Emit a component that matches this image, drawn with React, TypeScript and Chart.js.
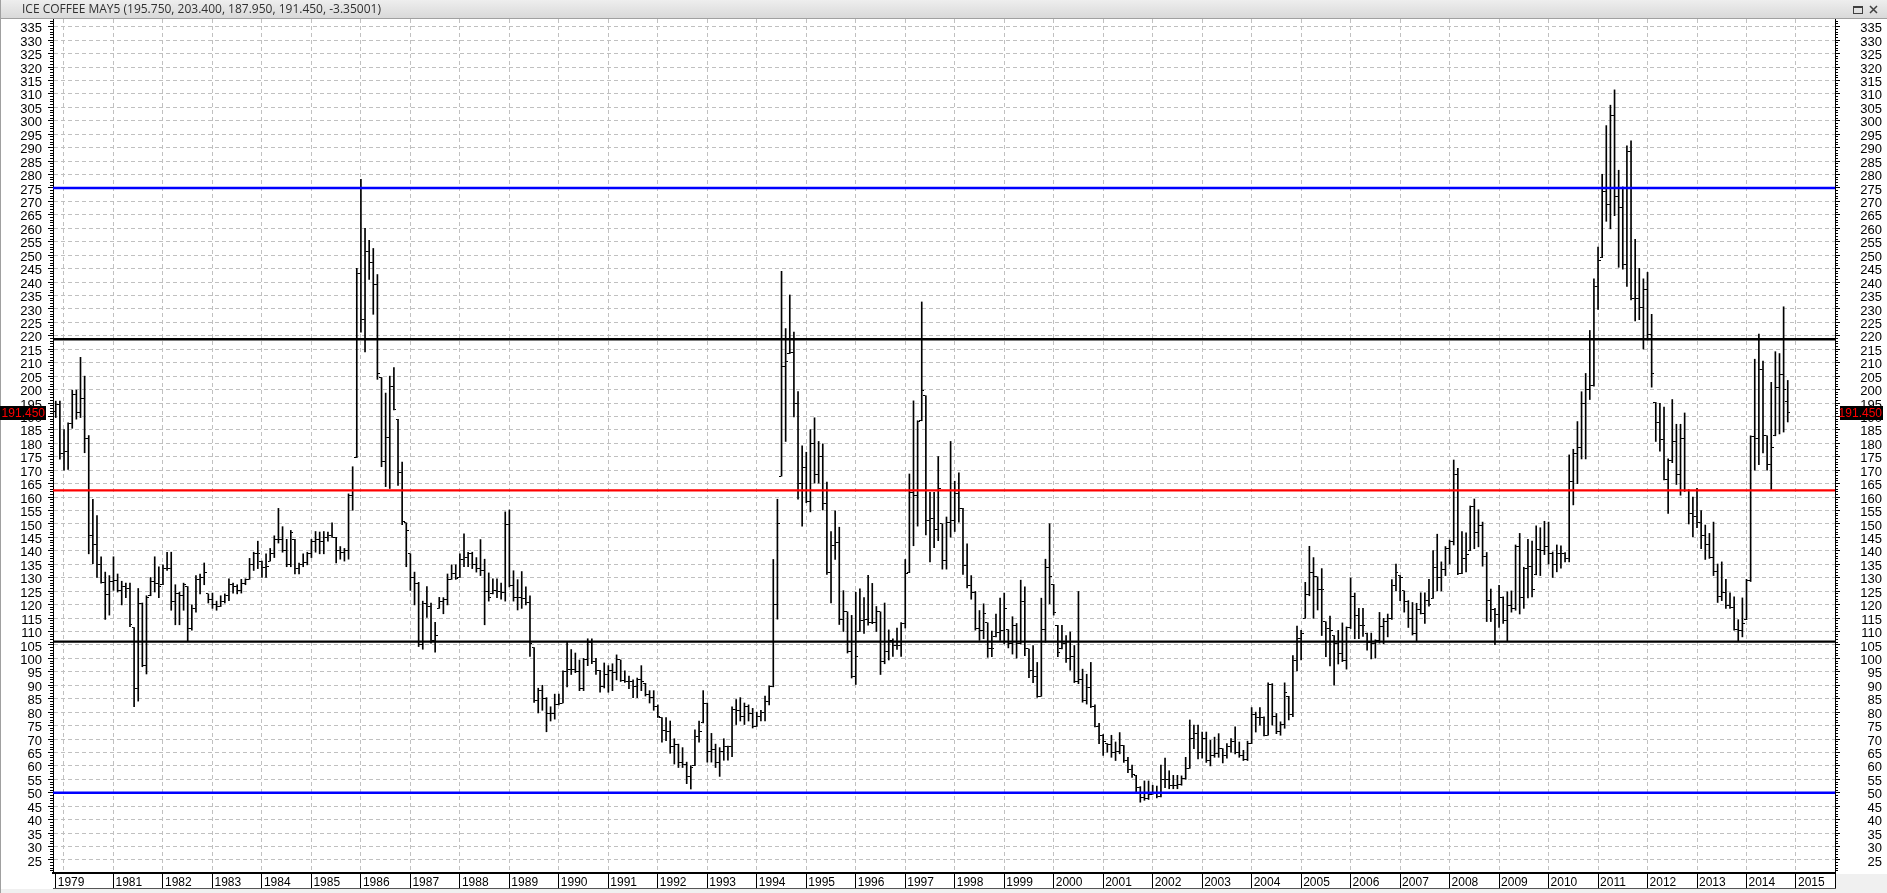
import React, { useEffect, useRef } from "react";
import { Chart, registerables } from "chart.js";

Chart.register(...registerables);

// ---------------- data ----------------
const TITLE = "ICE COFFEE MAY5";
const lastBar = { open: 195.75, high: 203.4, low: 187.95, close: 191.45, change: -3.35001 };

// monthly bars, the first one is Nov 1979 (month index counted from Jan 1979)
const BASE_YEAR = 1979;
const FIRST_BAR_MONTH = 10;

const levelValues = [275, 218.75, 162.5, 106.25, 50];
const levelColors = ["#0000ff", "#000000", "#ff0000", "#000000", "#0000ff"];

const firstYearLabel = "1979";
const yearBoundaries = [
  1980, 1981, 1982, 1983, 1984, 1985, 1986, 1987, 1988, 1989, 1990, 1991,
  1992, 1993, 1994, 1995, 1996, 1997, 1998, 1999, 2000, 2001, 2002, 2003,
  2004, 2005, 2006, 2007, 2008, 2009, 2010, 2011, 2012, 2013, 2014, 2015,
];
const hiddenYearLabels = [1980];

const priceTicks = [
  25, 30, 35, 40, 45, 50, 55, 60, 65, 70, 75, 80, 85, 90, 95, 100, 105, 110,
  115, 120, 125, 130, 135, 140, 145, 150, 155, 160, 165, 170, 175, 180, 185,
  190, 195, 200, 205, 210, 215, 220, 225, 230, 235, 240, 245, 250, 255, 260,
  265, 270, 275, 280, 285, 290, 295, 300, 305, 310, 315, 320, 325, 330, 335,
];

const opens = [
  192, 194.4,
  176.1, 177, 187.3, 198, 191.6, 196.7, 181.9, 145.9, 142.3, 134.8, 128.3, 123.7,
  128.7, 129.1, 125.1, 126.7, 126, 111.5, 88.8, 120.6, 97.2, 123.3, 128.7, 128,
  127.4, 133.5, 133.5, 121.3, 124, 123.3, 126.7, 111.1, 118.6, 129.4, 130.1, 124,
  121.9, 119.9, 119.3, 121.3, 123.3, 127.4, 126.7, 125.3, 128, 129.4, 134.8, 138.9,
  136.2, 133.7, 136.2, 138.9, 144.3, 144.3, 140.2, 134.8, 144.3, 133.5, 134.8, 135.5,
  138.9, 143.6, 144.3, 143.6, 145, 145.6, 145, 140.2, 139.5, 140.2, 160.5, 174.7,
  243, 226, 251.2, 247.1, 239, 204.5, 173.4, 182.2, 201.1, 188.9, 169.3, 150.4,
  138.9, 130.1, 128, 105, 120.6, 119.3, 106.7, 118.6, 121.3, 122, 129.4, 131.4,
  130.1, 136.9, 137.5, 138.9, 134.8, 133.5, 132.8, 124.7, 124, 125.3, 124.7, 124.6,
  149.9, 127, 122.6, 122.6, 122.2, 120.9, 104, 84.5, 88, 85, 79.4, 79.4,
  82.7, 83.4, 95, 96, 96, 95, 88.7, 99.5, 106, 98.7, 95.4, 89.4,
  94, 95.4, 94.7, 99.4, 91.6, 91.4, 91.4, 89.4, 92, 90.7, 86.7, 85.4,
  82, 78, 73, 72.7, 67.4, 68.1, 61.1, 60.7, 56.1, 60.1, 71, 76,
  83.4, 65.4, 66.1, 61.4, 65.4, 67.4, 67.1, 81, 80.7, 78.3, 82, 79.4,
  74.7, 78.3, 80, 84, 89.4, 120, 167.8, 208.6, 213.4, 213.7, 195, 165,
  171.1, 158.5, 179.8, 168.5, 175.1, 157.8, 132, 141.9, 143.2, 114.6, 117.3, 102.6,
  93.4, 110, 114.2, 114.6, 113.3, 113.3, 117.3, 98.7, 102.7, 106.7, 104.7, 104.7,
  113, 131.9, 161.8, 160.5, 188.4, 197.7, 151.2, 152.2, 147.9, 150.1, 136.6, 150.6,
  151.4, 161.4, 155.8, 134.4, 127.1, 124.5, 111.1, 110.4, 113.2, 103.5, 108, 109.5,
  110.2, 110.7, 105.4, 112.3, 105.7, 121.1, 103.5, 95.6, 93.4, 85.9, 110.7, 133.7,
  127.5, 112.3, 103.5, 105.4, 99.8, 100.6, 91.3, 92, 84.2, 89.3, 82.1, 74.6,
  71.4, 68.3, 67.9, 65.1, 65.4, 67.6, 61.9, 58.5, 56.5, 51.9, 48.1, 48,
  49.4, 50, 48.5, 54.8, 55.1, 52.6, 52.8, 53.2, 55.3, 59.1, 70.2, 72,
  64.9, 70.2, 61.9, 63.9, 64.5, 66.4, 63.9, 67.3, 68.9, 65.1, 63.9, 62.4,
  68.3, 79, 78, 78, 71.4, 90.3, 78.3, 72.9, 75.4, 85.9, 79, 99.1,
  107.3, 114.9, 123.7, 131.9, 130.3, 125.6, 113.6, 111.1, 108.5, 105.7, 101.9, 99.1,
  111.5, 123, 116.1, 112.3, 109.4, 106, 105.4, 106.7, 111.7, 113.6, 114.9, 127.1,
  130.8, 125.1, 121.1, 114.8, 109.1, 118.2, 116.8, 121.5, 122.3, 133.9, 130.1, 132.9,
  141, 143.3, 168.5, 131.5, 137.2, 140.1, 156.4, 146.7, 149.3, 137.9, 121.5, 118,
  116.5, 122.5, 114, 119.7, 118.7, 141.5, 122.5, 133.6, 134.3, 131.1, 140.5, 140.1,
  141.5, 139, 135.1, 139, 139, 137.2, 165.7, 176.4, 178.5, 195, 200, 201.7,
  238.4, 249.1, 273.6, 269, 302, 272, 267.6, 246.5, 288.7, 233.7, 233.7, 230.5,
  237.4, 220.6, 195.2, 187.8, 181.4, 166.7, 173.5, 180.7, 168.5, 181.8, 162.4, 153.9,
  152.9, 150.4, 145.7, 142.2, 137.6, 132.2, 122.9, 124.4, 119.7, 119.1, 110.8, 110.5,
  114.4, 129.1, 182.4, 181.8, 207.4, 182.8, 172, 182.8, 200.9, 205.6, 195.75,
];

const highs = [
  195.7, 195.7,
  185.1, 187.6, 199.8, 199.8, 212.0, 205.0, 182.9, 159.2, 153.1, 137.8, 132.1, 130.8,
  137.8, 131.4, 128.7, 128.0, 128.0, 111.5, 126.0, 120.6, 123.3, 130.1, 137.8, 134.1,
  134.8, 139.5, 139.5, 127.4, 124.7, 128.0, 126.7, 119.9, 130.8, 131.4, 135.5, 124.0,
  124.3, 121.3, 123.3, 124.0, 129.6, 128.0, 127.4, 129.4, 129.6, 137.2, 139.5, 143.6,
  136.2, 138.9, 140.9, 145.6, 155.8, 149.0, 144.3, 147.6, 144.3, 135.5, 138.9, 139.5,
  144.3, 147.2, 147.0, 147.2, 147.0, 150.4, 145.0, 141.6, 140.9, 161.2, 171.3, 245.1,
  278.2, 260.0, 255.5, 252.5, 242.8, 204.5, 198.7, 205.0, 208.2, 188.9, 173.0, 150.4,
  138.9, 132.1, 128.3, 121.3, 126.7, 120.6, 113.4, 122.7, 122.6, 131.4, 134.8, 134.8,
  138.9, 146.3, 139.5, 139.5, 137.5, 144.2, 136.9, 131.8, 129.6, 129.6, 128.0, 154.5,
  155.2, 132.6, 129.3, 132.3, 126.6, 123.3, 104.0, 88.9, 90.0, 85.4, 82.0, 86.7,
  86.7, 95.4, 106.0, 103.3, 102.0, 99.4, 100.0, 107.3, 107.3, 100.0, 95.6, 98.3,
  97.3, 98.0, 101.3, 99.4, 95.4, 93.4, 92.0, 92.7, 97.3, 90.7, 88.0, 88.0,
  82.7, 78.0, 78.0, 76.7, 70.1, 68.1, 66.8, 61.4, 60.1, 73.4, 76.7, 88.0,
  83.4, 72.1, 68.1, 66.8, 70.1, 67.4, 82.0, 84.7, 85.4, 83.4, 82.7, 81.4,
  80.0, 80.7, 86.0, 89.8, 136.8, 159.2, 244.0, 222.7, 235.2, 221.4, 199.3, 179.1,
  176.7, 185.1, 189.5, 180.7, 179.8, 165.6, 147.2, 154.9, 148.8, 125.2, 117.3, 116.0,
  124.6, 125.9, 122.6, 130.9, 127.9, 119.3, 117.3, 120.6, 110.6, 107.3, 111.3, 113.3,
  136.8, 168.6, 195.8, 188.4, 232.6, 197.7, 161.8, 161.8, 175.1, 150.1, 152.6, 180.7,
  165.9, 169.0, 155.8, 142.6, 130.8, 124.9, 117.8, 120.3, 113.2, 110.2, 116.5, 122.4,
  124.3, 110.7, 115.5, 113.0, 129.1, 126.6, 103.5, 104.8, 98.5, 122.4, 136.9, 150.1,
  127.5, 112.3, 112.3, 108.5, 109.8, 104.8, 124.9, 96.0, 94.1, 98.5, 82.7, 75.8,
  71.7, 68.3, 71.4, 68.9, 72.4, 67.6, 63.2, 60.3, 56.5, 52.3, 54.4, 54.4,
  52.8, 52.5, 60.3, 62.9, 58.2, 56.5, 56.5, 56.3, 63.2, 77.1, 75.2, 75.2,
  72.6, 72.6, 69.5, 70.7, 72.0, 66.4, 68.3, 70.2, 74.5, 68.9, 65.8, 69.2,
  81.7, 80.0, 81.7, 78.3, 90.9, 90.6, 79.5, 76.4, 90.9, 85.9, 101.0, 112.0,
  110.4, 128.3, 141.7, 137.5, 130.3, 133.4, 113.6, 115.7, 108.5, 110.4, 113.2, 111.7,
  129.9, 124.3, 118.6, 118.6, 109.4, 109.4, 106.9, 117.1, 114.9, 116.5, 129.3, 135.1,
  130.8, 125.1, 121.5, 120.8, 120.5, 124.4, 124.4, 129.4, 140.1, 146.2, 135.9, 141.6,
  144.0, 173.8, 170.7, 147.2, 146.7, 156.7, 159.3, 155.3, 150.7, 139.4, 125.8, 118.6,
  127.2, 122.9, 124.8, 125.1, 142.2, 146.5, 133.9, 144.3, 143.6, 149.3, 148.6, 151.0,
  150.7, 139.6, 142.2, 141.9, 139.4, 175.7, 177.8, 188.1, 199.2, 206.0, 222.0, 241.2,
  253.0, 280.1, 298.2, 305.8, 311.5, 281.6, 275.4, 290.7, 292.5, 255.9, 245.1, 241.2,
  243.6, 228.0, 195.2, 194.9, 193.5, 174.2, 196.3, 187.1, 187.1, 191.3, 162.8, 160.0,
  163.3, 155.0, 149.6, 146.5, 150.7, 135.1, 135.9, 129.4, 124.4, 122.9, 114.4, 122.5,
  129.4, 182.8, 211.3, 220.6, 210.6, 182.8, 202.7, 214.1, 213.4, 230.8, 203.4,
];

const lows = [
  189.6, 174.1,
  170.0, 170.3, 185.6, 189.0, 189.6, 176.5, 138.9, 135.2, 130.1, 128.0, 114.5, 116.1,
  125.3, 124.7, 119.9, 122.6, 111.8, 82.0, 84.1, 96.9, 94.2, 123.3, 124.7, 122.6,
  127.4, 132.7, 117.9, 112.5, 112.5, 117.9, 106.3, 110.5, 117.2, 124.0, 127.4, 120.6,
  118.6, 117.9, 119.3, 120.6, 121.5, 124.3, 124.0, 124.3, 127.4, 129.4, 132.7, 133.4,
  130.1, 130.1, 136.2, 137.5, 142.9, 139.5, 134.1, 134.1, 131.4, 131.4, 134.1, 134.8,
  137.5, 139.5, 138.9, 138.9, 143.6, 145.0, 135.5, 136.9, 136.2, 136.9, 155.1, 174.7,
  221.4, 214.0, 241.0, 228.0, 203.8, 171.3, 163.9, 163.2, 192.4, 164.3, 149.7, 134.1,
  125.3, 119.9, 104.4, 103.4, 115.2, 105.7, 102.3, 118.6, 116.6, 119.9, 129.4, 129.4,
  130.1, 134.1, 134.1, 133.4, 132.1, 130.8, 112.5, 121.3, 124.0, 122.6, 122.0, 121.3,
  126.6, 121.3, 118.0, 118.6, 119.9, 100.7, 83.6, 79.7, 80.7, 72.7, 76.7, 77.4,
  82.7, 83.4, 89.4, 94.0, 94.7, 88.0, 88.0, 97.3, 98.0, 94.0, 87.4, 89.0,
  87.4, 88.0, 92.0, 91.4, 91.1, 88.7, 85.4, 85.4, 88.0, 86.0, 83.4, 80.7,
  78.0, 68.8, 69.4, 64.7, 60.7, 59.4, 59.4, 53.4, 51.4, 60.1, 68.8, 76.0,
  61.4, 61.4, 59.4, 56.1, 62.1, 62.1, 63.4, 75.4, 76.7, 75.4, 76.7, 74.1,
  74.7, 76.7, 76.7, 82.7, 89.4, 114.6, 167.8, 180.7, 213.4, 189.8, 159.2, 149.2,
  157.9, 154.5, 165.2, 165.2, 155.2, 131.2, 120.6, 136.8, 112.6, 110.0, 102.0, 92.7,
  90.3, 110.0, 109.3, 112.4, 112.9, 110.0, 94.0, 98.0, 99.4, 100.7, 103.3, 100.7,
  111.3, 131.9, 141.9, 149.2, 188.4, 145.9, 135.9, 141.2, 143.8, 133.2, 133.2, 145.1,
  147.2, 150.7, 131.2, 126.2, 122.0, 110.5, 106.7, 107.3, 100.4, 100.6, 108.0, 106.7,
  105.4, 103.9, 101.6, 100.1, 105.4, 101.0, 92.8, 91.0, 85.5, 85.9, 106.0, 120.3,
  116.1, 100.6, 103.5, 98.5, 95.6, 91.0, 90.6, 83.7, 83.0, 81.7, 74.5, 68.3,
  63.9, 65.1, 63.2, 62.0, 64.5, 61.3, 57.5, 55.7, 50.0, 46.5, 47.2, 47.5,
  49.4, 48.1, 48.5, 51.9, 51.5, 51.5, 51.5, 52.8, 55.0, 59.1, 66.4, 62.6,
  62.9, 61.3, 60.0, 63.2, 63.2, 61.1, 62.9, 65.1, 64.5, 63.2, 62.0, 62.0,
  68.3, 72.6, 75.2, 71.2, 71.4, 75.2, 72.0, 71.4, 74.0, 77.1, 78.3, 95.3,
  99.4, 114.9, 123.3, 114.9, 118.0, 108.5, 100.6, 97.2, 90.0, 97.9, 98.8, 96.0,
  111.1, 107.3, 107.3, 108.2, 103.1, 99.8, 100.1, 105.7, 105.4, 108.0, 114.5, 125.1,
  121.5, 117.2, 111.5, 108.7, 106.6, 116.5, 113.0, 119.4, 122.3, 125.1, 125.1, 130.8,
  135.1, 142.2, 131.1, 131.5, 132.2, 140.1, 140.8, 141.5, 134.3, 113.7, 113.7, 105.1,
  111.5, 113.0, 106.6, 117.2, 117.9, 116.5, 118.6, 122.5, 122.9, 131.1, 130.8, 138.6,
  135.1, 130.1, 132.2, 133.6, 135.9, 135.9, 157.1, 165.0, 174.2, 174.2, 196.3, 201.3,
  229.8, 249.1, 262.6, 259.8, 264.7, 245.5, 244.8, 238.4, 233.4, 225.5, 226.0, 215.1,
  218.4, 200.9, 180.7, 177.1, 166.4, 153.9, 172.8, 164.7, 160.7, 162.1, 150.0, 145.3,
  148.6, 140.8, 136.8, 137.2, 130.8, 120.8, 121.5, 118.6, 118.6, 110.5, 106.3, 108.0,
  114.4, 128.6, 170.0, 172.1, 176.4, 170.0, 162.8, 182.8, 183.5, 184.2, 187.95,
];

const closes = [
  194.4, 176.1,
  177, 187.3, 198, 191.6, 196.7, 181.9, 145.9, 142.3, 134.8, 128.3, 123.7, 128.7,
  129.1, 125.1, 126.7, 126.0, 112.5, 88.8, 120.6, 97.2, 122.5, 128.7, 128.0, 126.7,
  133.5, 133.5, 121.3, 124.0, 123.3, 127.4, 111.1, 118.6, 129.4, 130.1, 132.1, 121.9,
  119.9, 119.3, 121.3, 123.3, 127.4, 126.7, 125.3, 128.0, 129.4, 134.8, 138.9, 138.9,
  133.7, 134.1, 138.9, 144.3, 144.3, 140.2, 134.8, 146.9, 133.5, 134.8, 135.5, 138.9,
  143.6, 144.3, 143.6, 145.0, 145.6, 145.0, 140.2, 139.5, 140.2, 160.5, 162.6, 243,
  226, 251.2, 247.1, 239.0, 206, 173.4, 182.2, 201.1, 192.7, 169.3, 151.0, 147.7,
  130.1, 128.0, 105.0, 120.6, 119.3, 106.7, 108.4, 121.3, 122.0, 129.4, 131.4, 129.8,
  136.9, 137.5, 138.9, 134.8, 133.5, 132.8, 124.7, 122.6, 125.3, 124.7, 124.6, 149.9,
  127, 122.6, 122.6, 122.2, 120.9, 105.7, 84.5, 88.0, 85.0, 79.4, 79.4, 82.7,
  83.4, 95, 96.0, 96.0, 95, 88.7, 99.5, 106.0, 98.7, 95.4, 89.4, 94.0,
  95.4, 94.7, 99.4, 91.6, 91.4, 91.4, 89.4, 92.0, 91.4, 86.7, 85.4, 82.0,
  78.5, 73.0, 72.7, 67.4, 68.1, 61.1, 60.7, 56.1, 59.5, 71, 72.7, 83.4,
  65.4, 66.1, 61.4, 65.4, 67.4, 67.1, 81, 80.7, 78.3, 82.0, 79.4, 74.7,
  78.3, 80.0, 84.0, 89.4, 120.0, 150, 208.6, 210.4, 213.7, 195, 165, 171.1,
  158.5, 179.8, 168.5, 175.1, 157.8, 132, 141.9, 143.2, 114.6, 117.3, 102.6, 93.4,
  100.7, 114.2, 114.6, 113.3, 113.3, 117.3, 98.7, 102.7, 106.7, 104.7, 104.7, 113,
  131.5, 161.8, 160.5, 188.2, 199.7, 151.2, 152.2, 147.9, 163.2, 136.6, 150.6, 151.4,
  161.4, 155.8, 134.4, 127.1, 124.5, 111.1, 110.4, 116.7, 103.5, 103.5, 109.5, 110.2,
  118.6, 105.4, 112.3, 105.7, 121.1, 103.5, 95.6, 93.4, 85.9, 110.7, 133.7, 130.6,
  117, 102.3, 105.4, 99.8, 100.6, 91.3, 92, 84.2, 89.3, 82.1, 74.6, 71.4,
  68.9, 67.9, 65.1, 65.4, 67.6, 61.9, 58.5, 56.9, 51.9, 48.1, 48, 49.4,
  50.0, 48.5, 54.8, 55.1, 52.6, 52.8, 53.2, 55.3, 59.1, 70.2, 72.0, 64.9,
  70.2, 61.9, 63.9, 64.5, 66.6, 63.9, 67.3, 68.9, 65.1, 63.9, 62.4, 68.3,
  79.0, 78.0, 78.0, 71.4, 90.3, 78.3, 72.9, 75.4, 87.2, 79.0, 99.1, 107.3,
  109.4, 123.7, 131.9, 130.6, 125.6, 125.6, 111.1, 110.4, 105.7, 101.9, 99.1, 111.5,
  123.0, 116.1, 112.3, 112.3, 106.0, 105.4, 106.7, 111.7, 113.6, 114.9, 127.1, 131.9,
  130.1, 121.1, 114.8, 109.1, 118.2, 116.8, 121.5, 120.1, 133.9, 130.1, 132.9, 141.0,
  143.3, 168.5, 131.5, 137.2, 138.6, 156.4, 146.7, 149.3, 137.9, 121.5, 118.0, 116.5,
  122.5, 114.0, 119.7, 118.7, 141.5, 122.5, 133.6, 134.3, 125.8, 140.5, 140.1, 141.5,
  139.0, 135.1, 139.0, 139.0, 137.2, 165.7, 176.4, 178.5, 195, 200, 201.7, 238.4,
  247.9, 273.6, 269.0, 302, 272, 267.6, 246.5, 288.7, 233.7, 233.7, 230.5, 237.4,
  220.6, 206.0, 187.8, 181.4, 166.7, 173.5, 180.7, 168.5, 181.8, 162.4, 153.9, 152.9,
  150.4, 145.7, 142.2, 137.6, 132.2, 122.9, 124.4, 119.7, 119.1, 110.8, 110.5, 113.0,
  129.1, 182.4, 181.8, 207.4, 182.8, 172, 178.5, 200.9, 205.6, 199.9, 191.45,
];

// ---------------- component ----------------
const W = 1887;
const H = 893;
const FONT = '"Liberation Sans", Arial, sans-serif';

export default function App() {
  const canvasRef = useRef<HTMLCanvasElement | null>(null);

  useEffect(() => {
    const canvas = canvasRef.current;
    if (!canvas) return;

    const X_MIN = 9.333;
    const X_MAX = 441.46;
    const Y_MIN = 20.16;
    const Y_MAX = 337.86;
    const PLOT_L = 53;
    const PLOT_R = 1835;
    const STRIP_BOTTOM = 888;

    Chart.defaults.font.family = FONT;

    const xs = closes.map((_, i) => FIRST_BAR_MONTH + i);
    const rangeData = xs.map((x, i) => ({ x, y: [lows[i], highs[i]] }));
    const openData = xs.map((x, i) => ({ x, y: opens[i] }));
    const closeData = xs.map((x, i) => ({ x, y: closes[i] }));

    const tickImg = (side: "left" | "right") => {
      const c = document.createElement("canvas");
      c.width = 5;
      c.height = 1;
      const g = c.getContext("2d")!;
      g.fillStyle = "#000";
      g.fillRect(side === "left" ? 0 : 3, 0, 2, 1);
      return c;
    };

    const xTicks = [{ value: FIRST_BAR_MONTH, label: firstYearLabel }].concat(
      yearBoundaries.map((y) => ({
        value: (y - BASE_YEAR) * 12,
        label: hiddenYearLabels.includes(y) ? "" : String(y),
      }))
    );

    const minorTicks = (s: any) => {
      const t: any[] = [];
      for (let v = Math.ceil(Y_MIN); v <= Y_MAX; v++) t.push({ value: v });
      s.ticks = t;
    };
    const majorTicks = (s: any) => {
      s.ticks = priceTicks.map((v) => ({ value: v }));
    };

    const titleText = `${TITLE} (${lastBar.open.toFixed(3)}, ${lastBar.high.toFixed(3)}, ${lastBar.low.toFixed(3)}, ${lastBar.close.toFixed(3)}, ${lastBar.change})`;

    const decor = {
      id: "decor",
      beforeDraw(chart: any) {
        const ctx = chart.ctx as CanvasRenderingContext2D;
        ctx.save();
        ctx.fillStyle = "#ffffff";
        ctx.fillRect(0, 0, W, H);
        const g = ctx.createLinearGradient(0, 0, 0, 18);
        g.addColorStop(0, "#eeeeee");
        g.addColorStop(1, "#d9d9d9");
        ctx.fillStyle = g;
        ctx.fillRect(0, 0, W, 18);
        ctx.fillStyle = "#a0a0a0";
        ctx.fillRect(0, 18, W, 1);
        ctx.fillStyle = "#f0f0f0";
        ctx.fillRect(0, STRIP_BOTTOM + 1, W, H - STRIP_BOTTOM - 1);
        ctx.fillRect(PLOT_R + 1, 874, W - PLOT_R - 1, H - 874);
        ctx.fillStyle = "#a0a0a0";
        ctx.fillRect(0, 0, 1, H);
        ctx.fillStyle = "#303030";
        ctx.font = '12px "Open Sans", "Noto Sans", sans-serif';
        ctx.textBaseline = "middle";
        ctx.textAlign = "left";
        ctx.fillText(titleText, 22, 10);
        ctx.restore();
      },
      afterDraw(chart: any) {
        const ctx = chart.ctx as CanvasRenderingContext2D;
        ctx.save();
        ctx.fillStyle = "#555555";
        ctx.fillRect(PLOT_L, STRIP_BOTTOM, PLOT_R - PLOT_L + 1, 1);
        ctx.fillStyle = "#000";
        ctx.fillRect(PLOT_R, 873, 1, STRIP_BOTTOM - 873);
        // last price markers
        const yp = chart.scales.y.getPixelForValue(lastBar.close);
        const txt = lastBar.close.toFixed(3);
        ctx.font = `12px ${FONT}`;
        ctx.textBaseline = "middle";
        ctx.fillStyle = "#000";
        ctx.fillRect(0, Math.round(yp) - 7, 46, 14);
        ctx.fillRect(1840, Math.round(yp) - 7, 43, 14);
        ctx.fillStyle = "#ff0000";
        ctx.textAlign = "right";
        ctx.fillText(txt, 45, Math.round(yp) + 0.5);
        ctx.fillText(txt, 1882, Math.round(yp) + 0.5);
        // window buttons
        ctx.strokeStyle = "#404040";
        ctx.lineWidth = 1;
        ctx.strokeRect(1853.5, 6.5, 9, 7);
        ctx.fillStyle = "#404040";
        ctx.fillRect(1853, 6, 10, 2);
        ctx.beginPath();
        ctx.moveTo(1870, 6);
        ctx.lineTo(1877, 13);
        ctx.moveTo(1877, 6);
        ctx.lineTo(1870, 13);
        ctx.lineWidth = 1.5;
        ctx.stroke();
        ctx.restore();
      },
    };

    const yCommon = { type: "linear", min: Y_MIN, max: Y_MAX, bounds: "data" };

    const chart = new Chart(canvas, {
      type: "bar",
      data: {
        datasets: [
          ...levelValues.map((v, i) => ({
            type: "line",
            data: [
              { x: X_MIN, y: v },
              { x: X_MAX, y: v },
            ],
            borderColor: levelColors[i],
            borderWidth: 2.4,
            pointRadius: 0,
            order: 0,
            xAxisID: "x",
            yAxisID: "y",
          })),
          {
            type: "scatter",
            data: openData,
            pointStyle: tickImg("left"),
            pointRadius: 3,
            order: 1,
            xAxisID: "x",
            yAxisID: "y",
          },
          {
            type: "scatter",
            data: closeData,
            pointStyle: tickImg("right"),
            pointRadius: 3,
            order: 1,
            xAxisID: "x",
            yAxisID: "y",
          },
          {
            type: "bar",
            data: rangeData,
            backgroundColor: "#000000",
            borderWidth: 0,
            barThickness: 1,
            grouped: false,
            order: 2,
            xAxisID: "x",
            yAxisID: "y",
          },
        ] as any,
      },
      options: {
        responsive: false,
        animation: false,
        devicePixelRatio: 1,
        events: [],
        layout: { padding: { left: 0, right: 5, top: 19, bottom: 4 } },
        plugins: { legend: { display: false }, tooltip: { enabled: false } },
        scales: {
          x: {
            type: "linear",
            position: "bottom",
            min: X_MIN,
            max: X_MAX,
            bounds: "data",
            offset: false,
            afterBuildTicks: (s: any) => {
              s.ticks = xTicks.map((t) => ({ value: t.value }));
            },
            afterFit: (s: any) => {
              s.height = 16;
            },
            grid: {
              color: (c: any) => (c.index === 0 ? "rgba(0,0,0,0)" : "#c0c0c0"),
              lineWidth: 1,
              drawTicks: true,
              tickLength: 16,
              tickWidth: 1,
              tickColor: (c: any) => (c.index === 1 ? "rgba(0,0,0,0)" : "#000000"),
              offset: false,
            },
            border: { display: true, color: "#000000", width: 2, dash: [4, 3] },
            ticks: {
              autoSkip: false,
              maxRotation: 0,
              minRotation: 0,
              align: "start",
              padding: -14,
              labelOffset: 2,
              color: "#000000",
              font: { size: 12, family: FONT },
              callback: (_v: any, i: number) => (xTicks[i] ? xTicks[i].label : ""),
            },
          },
          y: {
            ...yCommon,
            position: "left",
            weight: 1,
            afterBuildTicks: majorTicks,
            afterFit: (s: any) => {
              s.width = 53;
            },
            grid: { color: "#c0c0c0", lineWidth: 1, tickLength: 5, tickColor: "#000000", tickWidth: 1 },
            border: { display: true, color: "#000000", width: 1, dash: [4, 3] },
            ticks: {
              autoSkip: false,
              padding: 6,
              labelOffset: 2,
              color: "#000000",
              font: { size: 13, family: FONT },
              callback: (v: any) => String(v),
            },
          },
          yMinor: {
            ...yCommon,
            position: "left",
            weight: 0,
            afterBuildTicks: minorTicks,
            afterFit: (s: any) => {
              s.width = 0;
            },
            grid: { drawOnChartArea: false, tickLength: 3, tickColor: "#000000", tickWidth: 1 },
            border: { display: false },
            ticks: { display: false },
          },
          y2: {
            ...yCommon,
            position: "right",
            weight: 1,
            afterBuildTicks: majorTicks,
            afterFit: (s: any) => {
              s.width = 47;
            },
            grid: { drawOnChartArea: false, tickLength: 5, tickColor: "#000000", tickWidth: 1 },
            border: { display: true, color: "#000000", width: 1 },
            ticks: {
              autoSkip: false,
              crossAlign: "far",
              padding: 6,
              labelOffset: 2,
              color: "#000000",
              font: { size: 13, family: FONT },
              callback: (v: any) => String(v),
            },
          },
          y2Minor: {
            ...yCommon,
            position: "right",
            weight: 0,
            afterBuildTicks: minorTicks,
            afterFit: (s: any) => {
              s.width = 0;
            },
            grid: { drawOnChartArea: false, tickLength: 3, tickColor: "#000000", tickWidth: 1 },
            border: { display: false },
            ticks: { display: false },
          },
        } as any,
      },
      plugins: [decor as any],
    });

    return () => chart.destroy();
  }, []);

  return (
    <div style={{ position: "fixed", left: 0, top: 0, width: W, height: H, background: "#fff" }}>
      <canvas ref={canvasRef} width={W} height={H} style={{ display: "block", width: W, height: H }} />
    </div>
  );
}
